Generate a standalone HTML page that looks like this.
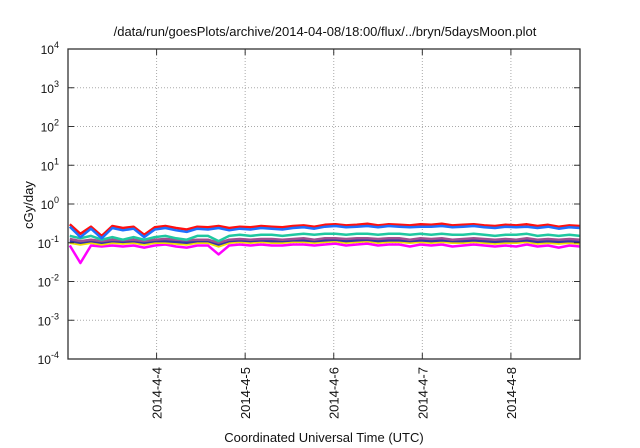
<!DOCTYPE html>
<html><head><meta charset="utf-8"><style>
body{margin:0;background:#fff;width:640px;height:448px;overflow:hidden}
svg{display:block;font-family:"Liberation Sans",sans-serif}
</style></head><body>
<svg id="chart" width="640" height="448">
<text x="325" y="36" text-anchor="middle" font-size="13" fill="#111">/data/run/goesPlots/archive/2014-04-08/18:00/flux/../bryn/5daysMoon.plot</text>
<text x="324" y="442" text-anchor="middle" font-size="13" fill="#111">Coordinated Universal Time (UTC)</text>
<text transform="translate(33,205) rotate(-90)" text-anchor="middle" font-size="13" fill="#111">cGy/day</text>
<g id="grid"></g><g id="series"></g><g id="axes"></g>
</svg>
<script>
const xTickLabels=["2014-4-4","2014-4-5","2014-4-6","2014-4-7","2014-4-8"];
const xTickDays=[1,2,3,4,5];
const yTickExps=[-4,-3,-2,-1,0,1,2,3,4];
const times=[0.02,0.14,0.26,0.38,0.50,0.62,0.74,0.86,0.98,1.10,1.22,1.34,1.46,1.58,1.70,1.82,1.94,2.06,2.18,2.30,2.42,2.54,2.66,2.78,2.90,3.02,3.14,3.26,3.38,3.50,3.62,3.74,3.86,3.98,4.10,4.22,4.34,4.46,4.58,4.70,4.82,4.94,5.06,5.18,5.30,5.42,5.54,5.66,5.78];
const redVals=[0.30,0.17,0.26,0.15,0.27,0.24,0.26,0.16,0.25,0.27,0.24,0.22,0.26,0.25,0.27,0.24,0.26,0.25,0.27,0.26,0.25,0.27,0.28,0.26,0.29,0.30,0.28,0.29,0.31,0.28,0.30,0.29,0.28,0.30,0.29,0.31,0.28,0.29,0.30,0.28,0.27,0.29,0.28,0.30,0.27,0.29,0.26,0.28,0.27];
const blueVals=[0.26,0.14,0.23,0.13,0.24,0.21,0.23,0.14,0.22,0.24,0.21,0.19,0.23,0.22,0.24,0.21,0.23,0.22,0.24,0.23,0.22,0.24,0.25,0.23,0.26,0.27,0.25,0.26,0.27,0.25,0.27,0.26,0.25,0.26,0.26,0.27,0.25,0.26,0.27,0.25,0.24,0.26,0.25,0.26,0.24,0.26,0.23,0.25,0.24];
const tealVals=[0.15,0.13,0.15,0.12,0.14,0.12,0.14,0.12,0.14,0.15,0.13,0.12,0.15,0.15,0.11,0.15,0.16,0.15,0.16,0.16,0.15,0.16,0.17,0.16,0.17,0.17,0.16,0.17,0.17,0.16,0.17,0.17,0.16,0.17,0.16,0.17,0.16,0.16,0.17,0.16,0.15,0.16,0.16,0.17,0.15,0.16,0.15,0.16,0.15];
const purpleVals=[0.125,0.11,0.12,0.11,0.12,0.115,0.12,0.11,0.12,0.125,0.12,0.115,0.12,0.12,0.10,0.12,0.125,0.12,0.125,0.125,0.12,0.125,0.13,0.12,0.13,0.13,0.125,0.13,0.13,0.125,0.13,0.13,0.12,0.13,0.125,0.13,0.12,0.125,0.13,0.125,0.12,0.125,0.12,0.13,0.12,0.125,0.12,0.125,0.12];
const navyVals=[0.11,0.10,0.11,0.10,0.11,0.105,0.11,0.10,0.11,0.11,0.105,0.10,0.11,0.11,0.09,0.11,0.115,0.11,0.115,0.11,0.11,0.115,0.115,0.11,0.115,0.12,0.11,0.115,0.12,0.11,0.115,0.115,0.11,0.115,0.11,0.115,0.11,0.11,0.115,0.11,0.105,0.11,0.11,0.115,0.105,0.11,0.105,0.11,0.105];
const yellowVals=[0.10,0.09,0.10,0.09,0.10,0.095,0.10,0.09,0.10,0.10,0.095,0.09,0.10,0.10,0.08,0.10,0.105,0.10,0.105,0.10,0.10,0.105,0.105,0.10,0.105,0.11,0.10,0.105,0.11,0.10,0.105,0.105,0.10,0.105,0.10,0.105,0.10,0.10,0.105,0.10,0.095,0.10,0.10,0.105,0.095,0.10,0.095,0.10,0.095];
const magentaVals=[0.085,0.03,0.085,0.08,0.085,0.08,0.085,0.075,0.085,0.09,0.08,0.075,0.085,0.085,0.05,0.085,0.09,0.085,0.09,0.085,0.085,0.09,0.09,0.085,0.09,0.095,0.085,0.09,0.095,0.085,0.09,0.09,0.08,0.09,0.085,0.09,0.08,0.085,0.09,0.085,0.08,0.085,0.08,0.09,0.08,0.085,0.075,0.085,0.08];
const seriesList=[["magenta",magentaVals,"#ff00ff"],["yellow",yellowVals,"#f0e000"],["navy",navyVals,"#3535a8"],["purple",purpleVals,"#a0508f"],["teal",tealVals,"#20c8a0"],["red",redVals,"#ff1010"],["blue",blueVals,"#1e70ff"]];
const L=68,R=580,T=49,B=359,X0=0.0,X1=5.78;
const xS=d=>L+(d-X0)/(X1-X0)*(R-L);
const yS=v=>B-(Math.log10(v)+4)/8*(B-T);
const NS="http://www.w3.org/2000/svg";
function mk(tag,attrs,parent){const e=document.createElementNS(NS,tag);for(const k in attrs)e.setAttribute(k,attrs[k]);parent.appendChild(e);return e;}
const grid=document.getElementById('grid'),axes=document.getElementById('axes'),ser=document.getElementById('series');
yTickExps.forEach(p=>{const y=yS(Math.pow(10,p));
 if(p>-4&&p<4){const g=mk('line',{x1:L,x2:R,y1:y,y2:y,stroke:'#aaa','stroke-dasharray':'1,2','stroke-width':1},grid);
 
 }
 const t1=mk('line',{x1:L,x2:L+6,y1:y,y2:y,stroke:'#333'},axes);
 
 
 const t2=mk('line',{x1:R-6,x2:R,y1:y,y2:y,stroke:'#333'},axes);
 
 
 const tx=mk('text',{x:59,y:y+5,'text-anchor':'end','font-size':12,fill:'#111'},axes);
 
 
 tx.innerHTML='10<tspan dy="-6" font-size="9">'+p+'</tspan>';});
xTickDays.forEach((d,i)=>{const x=xS(d);
 const g=mk('line',{x1:x,x2:x,y1:T,y2:B,stroke:'#aaa','stroke-dasharray':'1,2','stroke-width':1},grid);
 
 
 const t=mk('line',{x1:x,x2:x,y1:B-6,y2:B,stroke:'#333'},axes);
 
 
 const t2=mk('line',{x1:x,x2:x,y1:T,y2:T+6,stroke:'#333'},axes);
 
 
 const tx=mk('text',{transform:'translate('+(x+5)+','+(B+8)+') rotate(-90)','text-anchor':'end','font-size':13,fill:'#111'},axes);
 
 
 tx.textContent=xTickLabels[i];});
const fr=mk('rect',{x:L,y:T,width:R-L,height:B-T,fill:'none',stroke:'#333','stroke-width':1.3},axes);


seriesList.forEach(([name,vals,col])=>{
 const pts=vals.map((v,i)=>xS(times[i]).toFixed(1)+','+yS(v).toFixed(1)).join(' ');
 const pl=mk('polyline',{points:pts,fill:'none',stroke:col,'stroke-width':2.5,'stroke-linejoin':'round'},ser);
 
 });
</script>
</body></html>
